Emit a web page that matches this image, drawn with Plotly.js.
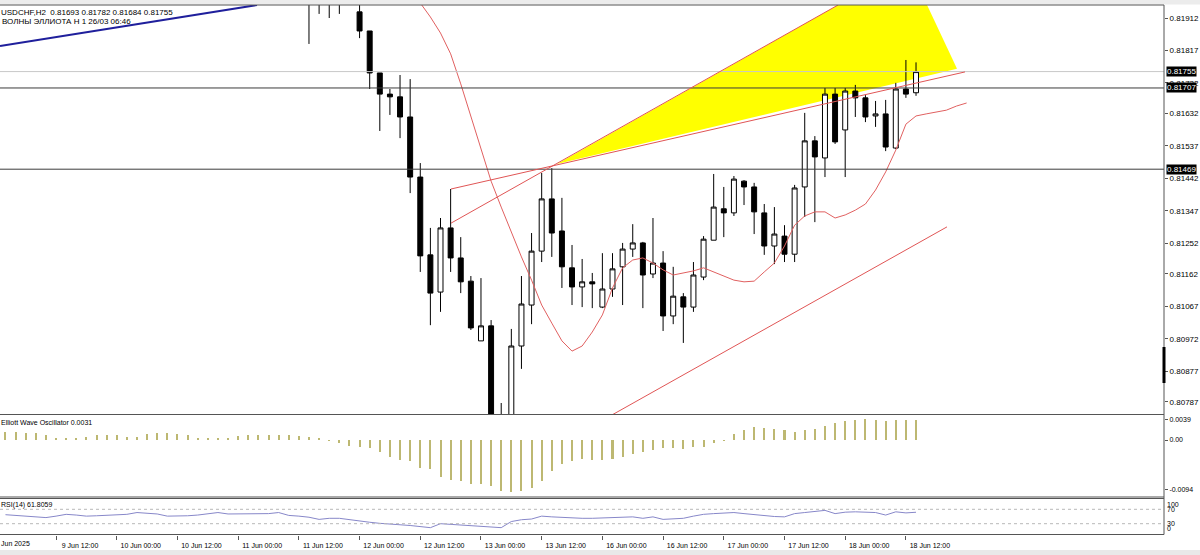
<!DOCTYPE html>
<html><head><meta charset="utf-8">
<script src="https://cdn.plot.ly/plotly-3.0.1.min.js"></script>
<style>html,body{margin:0;padding:0;background:#fff;overflow:hidden}#chart{width:1200px;height:555px}</style>
</head><body><div id="chart"></div>
<script>
// ---------- categories (H2 bars, trading days only) ----------
const tradingDays = ['2025-06-09','2025-06-10','2025-06-11','2025-06-12','2025-06-13','2025-06-16','2025-06-17','2025-06-18','2025-06-19'];
const sessionHours = ['00:00','02:00','04:00','06:00','08:00','10:00','12:00','14:00','16:00','18:00','20:00','22:00'];
const barTimes = tradingDays.flatMap(d => sessionHours.map(h => d + ' ' + h));
const barPos = t => barTimes.indexOf(t);
const seq = (start, n) => Array.from({length: n}, (_, i) => barPos(start) + i);

// ---------- candles USDCHF H2 (first visible bar 11 Jun 14:00) ----------
const candleStart = '2025-06-11 14:00';
const openP  = [0.81985,0.81970,0.81990,0.81965,0.81980,0.81930,0.81874,0.81751,0.81689,0.81681,0.81622,0.81446,0.81218,0.81109,0.81297,0.81209,0.81141,0.80966,0.81010,0.80730,0.80735,0.80951,0.81071,0.81229,0.81382,0.81288,0.81180,0.81124,0.81139,0.81065,0.81118,0.81183,0.81235,0.81253,0.81162,0.81194,0.81039,0.81095,0.81065,0.81153,0.81261,0.81353,0.81341,0.81434,0.81417,0.81341,0.81244,0.81273,0.81220,0.81417,0.81552,0.81502,0.81689,0.81584,0.81698,0.81678,0.81625,0.81631,0.81531,0.81704,0.81693];
const highP  = [0.82005,0.82000,0.82010,0.81995,0.82000,0.81965,0.81874,0.81751,0.81704,0.81745,0.81733,0.81487,0.81297,0.81326,0.81411,0.81270,0.81156,0.81150,0.81027,0.80784,0.81001,0.81156,0.81282,0.81458,0.81472,0.81385,0.81247,0.81206,0.81165,0.81223,0.81223,0.81253,0.81308,0.81256,0.81326,0.81229,0.81183,0.81106,0.81197,0.81273,0.81455,0.81417,0.81449,0.81437,0.81429,0.81367,0.81358,0.81305,0.81423,0.81634,0.81566,0.81707,0.81707,0.81707,0.81716,0.81686,0.81669,0.81672,0.81722,0.81789,0.81782];
const lowP   = [0.81836,0.81924,0.81912,0.81924,0.81955,0.81853,0.81704,0.81581,0.81628,0.81560,0.81399,0.81168,0.81012,0.81051,0.81168,0.81106,0.80998,0.80966,0.80700,0.80690,0.80715,0.80884,0.81015,0.81197,0.81212,0.81121,0.81071,0.81065,0.81062,0.81062,0.81095,0.81071,0.81212,0.81062,0.81150,0.80995,0.81015,0.80960,0.81051,0.81144,0.81261,0.81270,0.81332,0.81364,0.81279,0.81218,0.81191,0.81197,0.81197,0.81329,0.81314,0.81446,0.81543,0.81446,0.81622,0.81607,0.81593,0.81522,0.81528,0.81678,0.81684];
const closeP = [0.81970,0.81990,0.81965,0.81980,0.81960,0.81874,0.81751,0.81689,0.81681,0.81622,0.81446,0.81215,0.81106,0.81297,0.81209,0.81139,0.81004,0.81010,0.80720,0.80745,0.80951,0.81074,0.81229,0.81382,0.81282,0.81183,0.81124,0.81139,0.81133,0.81118,0.81177,0.81235,0.81253,0.81159,0.81194,0.81039,0.81097,0.81065,0.81159,0.81264,0.81358,0.81341,0.81440,0.81417,0.81344,0.81244,0.81279,0.81220,0.81414,0.81552,0.81505,0.81689,0.81549,0.81698,0.81678,0.81622,0.81631,0.81534,0.81704,0.81689,0.81755];

// ---------- red curve (shifted moving average) ----------
const maStart = '2025-06-12 12:00';
const maValues = [0.81956,0.81915,0.81868,0.81807,0.81719,0.81625,0.81525,0.81434,0.81358,0.81282,0.81212,0.81144,0.81071,0.81018,0.80966,0.80936,0.80951,0.80992,0.81042,0.81121,0.81180,0.81203,0.81209,0.81194,0.81174,0.81159,0.81165,0.81171,0.81180,0.81168,0.81156,0.81144,0.81139,0.81141,0.81168,0.81194,0.81244,0.81305,0.81332,0.81344,0.81344,0.81326,0.81335,0.81349,0.81367,0.81408,0.81461,0.81525,0.81601,0.81625,0.81631,0.81637,0.81642,0.81654,0.81663];

// ---------- indicators (first visible bar 9 Jun 02:00) ----------
const indStart = '2025-06-09 02:00';
const ewoValues = [0.0016,0.0016,0.0014,0.0013,0.0010,0.0004,0.0004,0.0004,0.0005,0.0009,0.0010,0.0009,0.0005,0.0005,0.0012,0.0013,0.0013,0.0012,0.0009,0.0004,0.0003,0.0003,0.0004,0.0008,0.0009,0.0009,0.0009,0.0009,0.0009,0.0008,
  0.0006,0.0003,-0.0001,-0.0006,-0.0011,-0.0014,-0.0016,-0.0022,-0.0032,-0.0038,-0.0040,-0.0053,-0.0055,-0.0069,-0.0075,-0.0077,-0.0083,-0.0083,-0.0087,-0.0096,-0.0099,-0.0096,-0.0091,-0.0077,-0.0058,-0.0046,-0.0040,-0.0036,-0.0038,-0.0038,-0.0036,-0.0033,-0.0027,-0.0023,-0.0018,-0.0016,-0.0016,-0.0017,-0.0014,-0.0013,-0.0005,-0.0001,0.0011,0.0018,0.0024,0.0022,0.0021,0.0018,0.0015,0.0018,0.0020,0.0027,0.0033,0.0036,0.0038,0.0039,0.0038,0.0036,0.0038,0.0038,0.0038];
const rsiValues = [55,53,51,49,47,51,56,54,51,52,53,53,56,61,60,57,51,51,52,54,58,61,57,57,58,56,58,61,53,51,
  48,42,45,45,41,36,34,31,30,27,25,22,19,30,28,26,25,23,20,19,36,41,43,51,49,47,46,45,45,46,48,50,49,45,49,42,44,45,51,56,58,60,61,58,55,51,50,49,58,61,63,67,58,62,63,61,61,54,63,60,61.8];

// ---------- axis ticks ----------
const timeTicks = ['2025-06-09 12:00','2025-06-10 00:00','2025-06-10 12:00','2025-06-11 00:00','2025-06-11 12:00','2025-06-12 00:00','2025-06-12 12:00','2025-06-13 00:00','2025-06-13 12:00','2025-06-16 00:00','2025-06-16 12:00','2025-06-17 00:00','2025-06-17 12:00','2025-06-18 00:00','2025-06-18 12:00'];
const timeLabels = ['9 Jun 12:00','10 Jun 00:00','10 Jun 12:00','11 Jun 00:00','11 Jun 12:00','12 Jun 00:00','12 Jun 12:00','13 Jun 00:00','13 Jun 12:00','16 Jun 00:00','16 Jun 12:00','17 Jun 00:00','17 Jun 12:00','18 Jun 00:00','18 Jun 12:00'];
const priceTicks = [0.81912,0.81817,0.81722,0.81632,0.81537,0.81442,0.81347,0.81252,0.81162,0.81067,0.80972,0.80877,0.80787];
const ewoTicks = [0.0039, 0, -0.0094];
const ewoTickLabels = ['0.0039','0.00','-0.0094'];
const rsiLevels = [70, 30];
const rsiScale = ['100','70','30','0'];

// ---------- price levels & drawn objects ----------
const bidLevel = 0.81755;
const hLevels = [0.81707, 0.81469];
const boxLabels = [0.81755, 0.81707, 0.81469];
// trend lines: bar position (fractional) and price of both ends
const trendX0 = [0.46, 45.04, 45.04, 60.95];
const trendP0 = [0.81830, 0.81411, 0.81311, 0.80749];
const trendX1 = [25.86, 95.84, 83.29, 94.06];
const trendP1 = [0.81950, 0.81754, 0.81950, 0.81300];
const trendColors = ['#1f1f9c', '#e05555', '#e05555', '#e05555'];
const trendWidths = [2, 1, 1, 1];
const fanX = [55.51, 83.29, 92.09, 95.05];
const fanP = [0.81484, 0.81950, 0.81950, 0.81763];

// ---------- layout helpers ----------
const H = 555;
const py = p => 1 - p / H;
const FONT = 'Liberation Sans, Arial, sans-serif';

const traces = [
  { type: 'candlestick', x: seq(candleStart, openP.length), open: openP, high: highP, low: lowP, close: closeP,
    xaxis: 'x', yaxis: 'y', whiskerwidth: 0, hoverinfo: 'skip',
    increasing: { line: { color: '#000', width: 1 }, fillcolor: '#ffffff' },
    decreasing: { line: { color: '#000', width: 1 }, fillcolor: '#000000' } },
  { type: 'scatter', mode: 'lines', x: seq(maStart, maValues.length), y: maValues, xaxis: 'x', yaxis: 'y',
    line: { color: '#e06060', width: 1 }, hoverinfo: 'skip' },
  { type: 'bar', x: seq(indStart, ewoValues.length), y: ewoValues, xaxis: 'x', yaxis: 'y2', width: 0.2,
    marker: { color: '#bdb872', line: { width: 0 } }, hoverinfo: 'skip' },
  { type: 'scatter', mode: 'lines', x: seq(indStart, rsiValues.length), y: rsiValues, xaxis: 'x', yaxis: 'y3',
    line: { color: '#8787c9', width: 1 }, hoverinfo: 'skip' }
];

const shapes = [];
shapes.push({ type: 'path', xref: 'x', yref: 'y', layer: 'below', fillcolor: '#ffff00', line: { width: 0 },
  path: 'M ' + fanX.map((v, i) => v + ',' + fanP[i]).join(' L ') + ' Z' });
shapes.push({ type: 'line', xref: 'paper', yref: 'y', x0: 0, x1: 1, y0: bidLevel, y1: bidLevel, line: { color: '#c8c8c8', width: 1 } });
hLevels.forEach(v => shapes.push({ type: 'line', xref: 'paper', yref: 'y', x0: 0, x1: 1, y0: v, y1: v, line: { color: '#3c3c3c', width: 1 } }));
trendX0.forEach((v, i) => shapes.push({ type: 'line', xref: 'x', yref: 'y', x0: v, y0: trendP0[i], x1: trendX1[i], y1: trendP1[i],
  line: { color: trendColors[i], width: trendWidths[i] } }));
rsiLevels.forEach(v => shapes.push({ type: 'line', xref: 'paper', yref: 'y3', x0: 0, x1: 1, y0: v, y1: v, line: { color: '#b8b8b8', width: 1, dash: 'dot' } }));
shapes.push({ type: 'rect', xref: 'paper', yref: 'paper', x0: 0, x1: 1200/1164, y0: py(4.5), y1: 1, fillcolor: '#ececec', line: { width: 0 } });
shapes.push({ type: 'rect', xref: 'paper', yref: 'paper', x0: 0, x1: 1200/1164, y0: 0, y1: py(550), fillcolor: '#e9e9e9', line: { width: 0 } });
[5, 414.5, 497, 498.5, 534.5].forEach(p => shapes.push({ type: 'line', xref: 'paper', yref: 'paper', x0: 0, x1: 1, y0: py(p), y1: py(p), line: { color: '#555', width: 1 } }));
shapes.push({ type: 'line', xref: 'paper', yref: 'paper', x0: 1, x1: 1, y0: py(5), y1: py(534.5), line: { color: '#555', width: 1 } });
shapes.push({ type: 'line', xref: 'paper', yref: 'paper', x0: 1, x1: 1, y0: py(347), y1: py(383), line: { color: '#000', width: 3 } });

const annotations = [
  { xref: 'paper', yref: 'paper', x: 0, y: py(12), xanchor: 'left', yanchor: 'middle', xshift: -1, showarrow: false,
    text: 'USDCHF,H2  0.81693 0.81782 0.81684 0.81755', font: { family: FONT, size: 8, color: '#000' } },
  { xref: 'paper', yref: 'paper', x: 0, y: py(21), xanchor: 'left', yanchor: 'middle', xshift: 0, showarrow: false,
    text: 'ВОЛНЫ ЭЛЛИОТА H 1 26/03 06:46', font: { family: FONT, size: 8, color: '#000' } },
  { xref: 'paper', yref: 'paper', x: 0, y: py(422), xanchor: 'left', yanchor: 'middle', xshift: -1, showarrow: false,
    text: 'Elliott Wave Oscillator 0.0031', font: { family: FONT, size: 7, color: '#000' } },
  { xref: 'paper', yref: 'paper', x: 0, y: py(505), xanchor: 'left', yanchor: 'middle', xshift: -1, showarrow: false,
    text: 'RSI(14) 61.8059', font: { family: FONT, size: 7, color: '#000' } },
  { xref: 'paper', yref: 'paper', x: 0, y: py(543), xanchor: 'left', yanchor: 'middle', xshift: -1, showarrow: false,
    text: 'Jun 2025', font: { family: FONT, size: 7, color: '#000' } }
];
boxLabels.forEach(v => annotations.push({ xref: 'paper', yref: 'y', x: 1, y: v, xanchor: 'left', yanchor: 'middle', xshift: 2,
  showarrow: false, text: v.toFixed(5), bgcolor: '#000', borderpad: 0, font: { family: FONT, size: 8, color: '#fff' } }));
const rsiScaleY = [504, 509, 523.5, 528.5];
rsiScale.forEach((t, i) => annotations.push({ xref: 'paper', yref: 'paper', x: 1, y: py(rsiScaleY[i]), xanchor: 'left', yanchor: 'middle',
  xshift: 1, showarrow: false, text: t, font: { family: FONT, size: 7, color: '#000' } }));

const layout = {
  width: 1200, height: 555, margin: { l: 0, r: 36, t: 0, b: 0 },
  paper_bgcolor: '#ffffff', plot_bgcolor: '#ffffff', showlegend: false, hovermode: false, bargap: 0,
  font: { family: FONT, size: 8, color: '#000' },
  xaxis: { domain: [0, 1], range: [0.46, 115.51], anchor: 'y3', type: 'linear', rangeslider: { visible: false },
    tickmode: 'array', tickvals: timeTicks.map(barPos), ticktext: timeLabels, ticks: 'outside', ticklen: 4, tickcolor: '#555',
    tickfont: { family: FONT, size: 7, color: '#000' }, ticklabelshift: 24, showgrid: false, zeroline: false, showline: false, fixedrange: true },
  yaxis: { domain: [py(414.5), py(5)], range: [0.807503, 0.819501], anchor: 'x', side: 'right',
    tickmode: 'array', tickvals: priceTicks, ticktext: priceTicks.map(v => v.toFixed(5)), ticks: 'outside', ticklen: 3, tickcolor: '#555',
    tickfont: { family: FONT, size: 8, color: '#000' }, showgrid: false, zeroline: false, showline: false, fixedrange: true },
  yaxis2: { domain: [py(497), py(415)], range: [-0.010755, 0.004717], anchor: 'x', side: 'right',
    tickmode: 'array', tickvals: ewoTicks, ticktext: ewoTickLabels, ticks: 'outside', ticklen: 3, tickcolor: '#555',
    tickfont: { family: FONT, size: 7, color: '#000' }, showgrid: false, zeroline: false, showline: false, fixedrange: true },
  yaxis3: { domain: [py(534.5), py(498.5)], range: [0, 100], anchor: 'x', side: 'right', showticklabels: false, ticks: '',
    showgrid: false, zeroline: false, showline: false, fixedrange: true },
  shapes: shapes, annotations: annotations
};

Plotly.newPlot('chart', traces, layout, { displayModeBar: false, staticPlot: true });
</script>
</body></html>
